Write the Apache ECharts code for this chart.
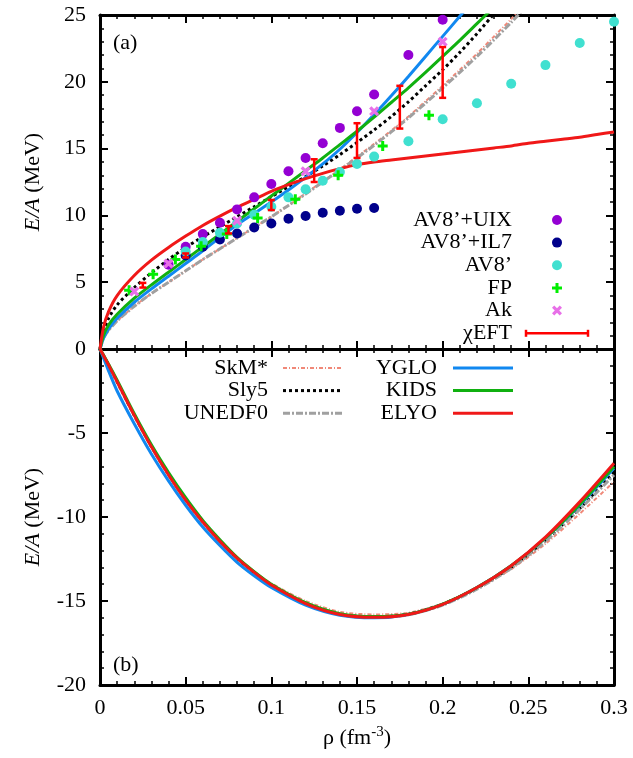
<!DOCTYPE html>
<html>
<head>
<meta charset="utf-8">
<script src="https://cdn.jsdelivr.net/npm/echarts@6/dist/echarts.min.js"></script>
<style>
  html, body { margin: 0; padding: 0; background: #fff; }
  #chart { width: 633px; height: 758px; }
</style>
</head>
<body>
<div id="chart"></div>
<script>
// ---------- (a) pure neutron matter: E/A (MeV) vs density (fm^-3) ----------
const pnmRho = [0, 0.002, 0.005, 0.01, 0.02, 0.03, 0.04, 0.05, 0.06, 0.07, 0.08, 0.09,
  0.10, 0.11, 0.12, 0.13, 0.14, 0.15, 0.16, 0.17, 0.18, 0.19, 0.20, 0.21, 0.22, 0.23,
  0.24, 0.25, 0.26, 0.27, 0.28, 0.29, 0.30];
const pnmSkM = [0, 0.8, 1.4, 2.1, 3.2, 4.15, 5.0, 5.85, 6.7, 7.5, 8.3, 9.1, 9.9, 10.75,
  11.65, 12.55, 13.45, 14.4, 15.35, 16.35, 17.4, 18.55, 19.7, 20.9, 22.1, 23.4, 24.7, 26.05];
const pnmSly5 = [0, 1.3, 2.3, 3.3, 4.6, 5.7, 6.7, 7.6, 8.4, 9.15, 9.9, 10.65, 11.4, 12.15,
  12.9, 13.7, 14.55, 15.45, 16.4, 17.4, 18.5, 19.7, 20.9, 22.2, 23.6, 25.1];
const pnmUNEDF0 = [0, 0.8, 1.4, 2.1, 3.2, 4.15, 5.0, 5.85, 6.7, 7.5, 8.3, 9.1, 9.9, 10.75,
  11.6, 12.5, 13.4, 14.3, 15.25, 16.25, 17.3, 18.4, 19.55, 20.7, 21.9, 23.15, 24.45, 25.8];
const pnmYGLO = [0, 0.8, 1.5, 2.3, 3.5, 4.5, 5.45, 6.4, 7.35, 8.35, 9.3, 10.15, 11.0, 11.9,
  12.85, 13.85, 14.95, 16.2, 17.55, 18.95, 20.4, 21.9, 23.4, 24.9, 26.4];
const pnmKIDS = [0, 1.0, 1.8, 2.6, 3.8, 4.8, 5.75, 6.7, 7.65, 8.6, 9.55, 10.5, 11.45, 12.4,
  13.35, 14.3, 15.3, 16.3, 17.35, 18.45, 19.55, 20.7, 21.9, 23.1, 24.35, 25.6];
const pnmELYO = [0, 1.6, 2.8, 4.0, 5.5, 6.65, 7.6, 8.45, 9.25, 9.95, 10.6, 11.2, 11.8, 12.3,
  12.75, 13.15, 13.5, 13.8, 14.0, 14.15, 14.3, 14.45, 14.6, 14.75, 14.9, 15.05, 15.2, 15.4,
  15.55, 15.7, 15.85, 16.05, 16.25];

// microscopic calculations
const uixRho = [0.04, 0.05, 0.06, 0.07, 0.08, 0.09, 0.10, 0.11, 0.12, 0.13, 0.14, 0.15, 0.16, 0.18, 0.20];
const uixE   = [6.3, 7.65, 8.6, 9.45, 10.45, 11.35, 12.35, 13.3, 14.3, 15.4, 16.55, 17.8, 19.05, 22.0, 24.65];
const il7Rho = [0.05, 0.06, 0.07, 0.08, 0.09, 0.10, 0.11, 0.12, 0.13, 0.14, 0.15, 0.16];
const il7E   = [7.0, 7.65, 8.2, 8.65, 9.1, 9.4, 9.75, 9.95, 10.2, 10.35, 10.5, 10.55];
const av8Rho = [0.05, 0.06, 0.07, 0.08, 0.09, 0.10, 0.11, 0.12, 0.13, 0.14, 0.15, 0.16, 0.18,
  0.20, 0.22, 0.24, 0.26, 0.28, 0.30];
const av8E   = [7.3, 8.0, 8.7, 9.4, 10.05, 10.65, 11.35, 11.95, 12.6, 13.25, 13.85, 14.4, 15.55,
  17.2, 18.4, 19.85, 21.25, 22.9, 24.5];
const fpRho = [0.017, 0.031, 0.044, 0.059, 0.074, 0.092, 0.114, 0.139, 0.165, 0.192];
const fpE   = [4.4, 5.6, 6.7, 7.7, 8.6, 9.8, 11.2, 13.0, 15.2, 17.5];
const akRho = [0.02, 0.04, 0.08, 0.12, 0.16, 0.20];
const akE   = [4.3, 6.4, 9.6, 13.3, 17.8, 23.0];
const eftRho  = [0.025, 0.05, 0.075, 0.10, 0.125, 0.15, 0.175, 0.20];
const eftLow  = [4.6, 6.85, 8.65, 10.4, 12.5, 14.3, 16.5, 18.8];
const eftHigh = [4.95, 7.15, 9.2, 11.15, 14.2, 16.9, 19.7, 22.6];

// ---------- (b) symmetric nuclear matter ----------
const snmRho = [0, 0.005, 0.01, 0.02, 0.03, 0.04, 0.05, 0.06, 0.07, 0.08, 0.09, 0.10, 0.12,
  0.14, 0.16, 0.18, 0.20, 0.22, 0.24, 0.26, 0.28, 0.30];
const snmSkM = [0, -0.95, -1.95, -3.9, -5.75, -7.45, -8.95, -10.25, -11.4, -12.4, -13.25,
  -13.95, -15.0, -15.65, -15.8, -15.7, -15.15, -14.25, -13.1, -11.6, -9.8, -7.9];
const snmSly5 = [0, -0.95, -1.95, -3.95, -5.8, -7.45, -8.96, -10.28, -11.44, -12.46, -13.32,
  -14.06, -15.16, -15.8, -15.95, -15.79, -15.19, -14.23, -12.98, -11.38, -9.48, -7.32];
const snmUNEDF0 = [0, -0.95, -1.95, -3.95, -5.82, -7.5, -9.0, -10.3, -11.45, -12.45, -13.3,
  -14.05, -15.15, -15.8, -15.97, -15.82, -15.25, -14.3, -13.05, -11.45, -9.55, -7.5];
const snmYGLO = [0, -1.3, -2.5, -4.45, -6.25, -7.85, -9.3, -10.6, -11.7, -12.7, -13.5,
  -14.2, -15.25, -15.85, -16.0, -15.8, -15.2, -14.2, -12.9, -11.25, -9.3, -7.1];
const snmKIDS = [0, -0.9, -1.85, -3.85, -5.7, -7.35, -8.85, -10.2, -11.35, -12.4, -13.25,
  -14.0, -15.1, -15.75, -15.93, -15.78, -15.18, -14.2, -12.9, -11.25, -9.25, -7.0];
const snmELYO = [0, -0.95, -1.95, -3.95, -5.82, -7.5, -9.0, -10.3, -11.45, -12.45, -13.3,
  -14.05, -15.15, -15.8, -15.97, -15.8, -15.2, -14.2, -12.9, -11.2, -9.1, -6.8];

const xTicks = [0, 0.05, 0.1, 0.15, 0.2, 0.25, 0.3];

// ---------- styling ----------
const FONT = '"Liberation Serif", "DejaVu Serif", serif';
const C = {
  skm: '#f08878', sly5: '#000000', unedf0: '#a0a0a0',
  yglo: '#1188f0', kids: '#10b010', elyo: '#f01818',
  uix: '#9400d3', il7: '#00008b', av8: '#40e0d0', fp: '#00ee00', ak: '#e870e8', eft: '#ff0000'
};
const PLUS = 'path://M0,7H20V13H0Z M7,0H13V20H7Z';

const zip = (xs, ys) => ys.map((y, i) => [xs[i], y]);

const models = [
  { name: 'SkM*',   pnm: pnmSkM,    snm: snmSkM,    color: C.skm,    width: 2,   dash: [4, 2, 1, 2] },
  { name: 'Sly5',   pnm: pnmSly5,   snm: snmSly5,   color: C.sly5,   width: 3,   dash: [3, 3] },
  { name: 'UNEDF0', pnm: pnmUNEDF0, snm: snmUNEDF0, color: C.unedf0, width: 3,   dash: [7, 2, 2, 2] },
  { name: 'YGLO',   pnm: pnmYGLO,   snm: snmYGLO,   color: C.yglo,   width: 3,   dash: 'solid' },
  { name: 'KIDS',   pnm: pnmKIDS,   snm: snmKIDS,   color: C.kids,   width: 3,   dash: 'solid' },
  { name: 'ELYO',   pnm: pnmELYO,   snm: snmELYO,   color: C.elyo,   width: 3,   dash: 'solid' }
];

const series = [];
models.forEach((m, k) => {
  series.push({
    name: m.name, type: 'line', xAxisIndex: 0, yAxisIndex: 0,
    data: zip(pnmRho, m.pnm), showSymbol: false, smooth: 0.25,
    lineStyle: { color: m.color, width: m.width, type: m.dash }, z: 2 + k * 0.01,
    clip: true, silent: true
  });
  series.push({
    name: m.name + ' SNM', type: 'line', xAxisIndex: 2, yAxisIndex: 2,
    data: zip(snmRho, m.snm), showSymbol: false, smooth: 0.25,
    lineStyle: { color: m.color, width: m.width, type: m.dash }, z: 2 + k * 0.01,
    clip: true, silent: true
  });
});

function scatter(name, xs, ys, symbol, size, color, rotate) {
  return {
    name, type: 'scatter', xAxisIndex: 0, yAxisIndex: 0, data: zip(xs, ys),
    symbol, symbolSize: size, symbolRotate: rotate || 0,
    itemStyle: { color, opacity: 1 }, z: 4, silent: true
  };
}
series.push(scatter('AV8’+UIX', uixRho, uixE, 'circle', 10, C.uix));
series.push(scatter('AV8’+IL7', il7Rho, il7E, 'circle', 10, C.il7));
series.push(scatter('AV8’', av8Rho, av8E, 'circle', 10, C.av8));
series.push(scatter('FP', fpRho, fpE, PLUS, 10, C.fp));
series.push(scatter('Ak', akRho, akE, PLUS, 11, C.ak, 45));

// chiral EFT uncertainty bands as error bars
series.push({
  name: 'χEFT', type: 'custom', xAxisIndex: 0, yAxisIndex: 0, z: 5, silent: true,
  data: eftRho.map((r, i) => [r, eftLow[i], eftHigh[i]]),
  encode: { x: 0, y: [1, 2] },
  renderItem(params, api) {
    const lo = api.coord([api.value(0), api.value(1)]);
    const hi = api.coord([api.value(0), api.value(2)]);
    const cap = 3.5;
    const st = { stroke: C.eft, lineWidth: 2.5 };
    return {
      type: 'group', children: [
        { type: 'line', shape: { x1: lo[0], y1: lo[1], x2: hi[0], y2: hi[1] }, style: st },
        { type: 'line', shape: { x1: lo[0] - cap, y1: lo[1], x2: lo[0] + cap, y2: lo[1] }, style: st },
        { type: 'line', shape: { x1: hi[0] - cap, y1: hi[1], x2: hi[0] + cap, y2: hi[1] }, style: st }
      ]
    };
  }
});

// ---------- axes ----------
const axisLine = { show: true, onZero: false, lineStyle: { color: '#000', width: 3 } };
const tick = { show: true, inside: true, length: 8, lineStyle: { color: '#000', width: 2 } };
const minor = { show: true, splitNumber: 5, length: 4, lineStyle: { color: '#000', width: 1.5 } };
const lbl = { show: true, color: '#000', fontFamily: FONT, fontSize: 22 };

function xAx(grid, pos, showLabel) {
  return {
    type: 'value', gridIndex: grid, position: pos, min: 0, max: 0.3, interval: 0.05,
    axisLine, axisTick: tick, minorTick: minor, splitLine: { show: false },
    axisLabel: showLabel ? Object.assign({}, lbl, {
      margin: 12, formatter: v => { const t = xTicks.find(s => Math.abs(s - v) < 1e-9); return t === undefined ? '' : String(t); }
    }) : { show: false },
    name: showLabel ? '{a|ρ (fm}{s|-3}{a|)}' : '',
    nameLocation: 'middle', nameGap: 40,
    nameTextStyle: {
      color: '#000', fontFamily: FONT, fontSize: 22,
      rich: {
        a: { fontFamily: FONT, fontSize: 22, color: '#000', lineHeight: 26 },
        s: { fontFamily: FONT, fontSize: 15, color: '#000', verticalAlign: 'top', lineHeight: 26, padding: [0, 0, 8, 0] }
      }
    }
  };
}
function yAx(grid, pos, min, max, showLabel) {
  return {
    type: 'value', gridIndex: grid, position: pos, min, max, interval: 5,
    axisLine, axisTick: tick, minorTick: minor, splitLine: { show: false },
    axisLabel: showLabel ? Object.assign({}, lbl, { margin: 14, showMaxLabel: grid === 0 }) : { show: false },
    name: showLabel ? '{i|E/A} (MeV)' : '',
    nameLocation: 'middle', nameRotate: 90, nameGap: 56,
    nameTextStyle: {
      color: '#000', fontFamily: FONT, fontSize: 22,
      rich: { i: { fontFamily: FONT, fontSize: 22, fontStyle: 'italic', color: '#000' } }
    }
  };
}

// ---------- legends and panel tags ----------
const txt = (x, y, s, align) => ({
  type: 'text', x, y, silent: true,
  style: { text: s, fill: '#000', font: '22px ' + FONT, textAlign: align || 'right', textVerticalAlign: 'middle' }
});
const graphics = [
  txt(113, 43, '(a)', 'left'),
  txt(113, 665, '(b)', 'left')
];
// points legend (panel a)
const ptRows = [220, 242.6, 265.3, 288, 310.6, 333.3];
const ptNames = ['AV8’+UIX', 'AV8’+IL7', 'AV8’', 'FP', 'Ak', 'χEFT'];
const sx = 557;
ptNames.forEach((n, i) => graphics.push(txt(512, ptRows[i], n)));
[C.uix, C.il7, C.av8].forEach((c, i) => graphics.push({
  type: 'circle', silent: true, shape: { cx: sx, cy: ptRows[i], r: 5 }, style: { fill: c }
}));
graphics.push({
  type: 'group', x: sx, y: ptRows[3], silent: true, children: [
    { type: 'rect', shape: { x: -5, y: -1.5, width: 10, height: 3 }, style: { fill: C.fp } },
    { type: 'rect', shape: { x: -1.5, y: -5, width: 3, height: 10 }, style: { fill: C.fp } }
  ]
});
graphics.push({
  type: 'group', x: sx, y: ptRows[4], rotation: Math.PI / 4, silent: true, children: [
    { type: 'rect', shape: { x: -5.5, y: -1.6, width: 11, height: 3.2 }, style: { fill: C.ak } },
    { type: 'rect', shape: { x: -1.6, y: -5.5, width: 3.2, height: 11 }, style: { fill: C.ak } }
  ]
});
graphics.push({
  type: 'group', x: 0, y: ptRows[5], silent: true, children: [
    { type: 'line', shape: { x1: 526, y1: 0, x2: 588, y2: 0 }, style: { stroke: C.eft, lineWidth: 2.5 } },
    { type: 'line', shape: { x1: 526, y1: -3.5, x2: 526, y2: 3.5 }, style: { stroke: C.eft, lineWidth: 2.5 } },
    { type: 'line', shape: { x1: 588, y1: -3.5, x2: 588, y2: 3.5 }, style: { stroke: C.eft, lineWidth: 2.5 } }
  ]
});
// model legend (panel b)
const lnRows = [368, 390.6, 413.3];
models.forEach((m, i) => {
  const col = i < 3 ? 0 : 1;
  const y = lnRows[i % 3];
  const tx = col === 0 ? 268 : 437;
  const x1 = col === 0 ? 283 : 453;
  graphics.push(txt(tx, y, m.name));
  graphics.push({
    type: 'line', silent: true, shape: { x1, y1: y, x2: x1 + 60, y2: y },
    style: { stroke: m.color, lineWidth: m.width, lineDash: m.dash === 'solid' ? null : m.dash }
  });
});

const chart = echarts.init(document.getElementById('chart'), null, { renderer: 'canvas' });
chart.setOption({
  animation: false,
  backgroundColor: '#fff',
  textStyle: { fontFamily: FONT },
  grid: [
    { left: 100, top: 15, width: 514, height: 334 },
    { left: 100, top: 349, width: 514, height: 336 }
  ],
  xAxis: [xAx(0, 'bottom', false), xAx(0, 'top', false), xAx(1, 'bottom', true), xAx(1, 'top', false)],
  yAxis: [yAx(0, 'left', 0, 25, true), yAx(0, 'right', 0, 25, false),
          yAx(1, 'left', -20, 0, true), yAx(1, 'right', -20, 0, false)],
  series,
  graphic: graphics
});
</script>
</body>
</html>
